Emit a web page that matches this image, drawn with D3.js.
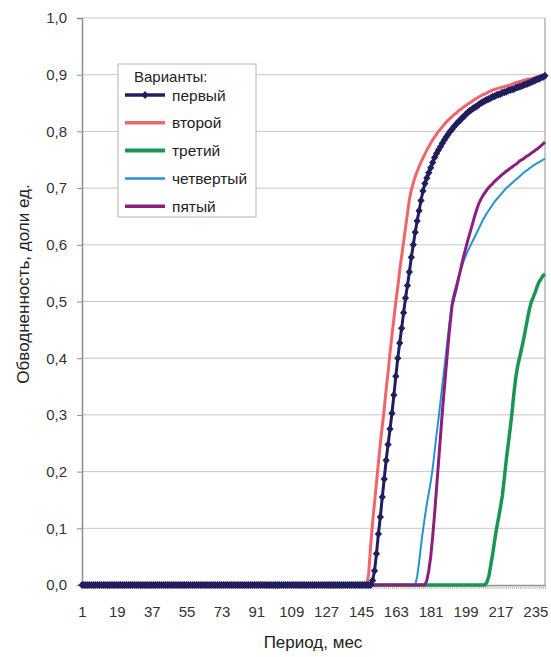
<!DOCTYPE html>
<html>
<head>
<meta charset="utf-8">
<script src="https://cdn.jsdelivr.net/npm/d3@7/dist/d3.min.js"></script>
<style>
  html, body { margin: 0; padding: 0; background: #fff; }
  svg { display: block; font-family: "Liberation Sans", Arial, sans-serif; }
</style>
</head>
<body>
<svg id="chart" width="551" height="657"></svg>
<script>
// Months 1..240; every series is zero until its start month, then the listed values.
const months = d3.range(1, 241);
const monthLabels = d3.range(1, 241, 18);
const yTicks = [0, 0.1, 0.2, 0.3, 0.4, 0.5, 0.6, 0.7, 0.8, 0.9, 1.0];

const seriesNames = ["первый", "второй", "третий", "четвертый", "пятый"];
const seriesColors = ["#221d5e", "#f0646c", "#1a9652", "#2593d3", "#8c1f7d"];

const firstStart = 151;
const firstValues = [
  0.008, 0.025, 0.055, 0.09, 0.12, 0.155, 0.187, 0.22, 0.248, 0.275,
  0.303, 0.335, 0.368, 0.4, 0.427, 0.453, 0.48, 0.506, 0.528, 0.552,
  0.578, 0.6, 0.622, 0.642, 0.66, 0.678, 0.695, 0.708, 0.718, 0.727,
  0.736, 0.745, 0.754, 0.761, 0.767, 0.773, 0.779, 0.785, 0.79, 0.795,
  0.8, 0.804, 0.808, 0.812, 0.816, 0.819, 0.823, 0.826, 0.83, 0.833,
  0.836, 0.838, 0.841, 0.843, 0.845, 0.848, 0.85, 0.852, 0.854, 0.856,
  0.857, 0.859, 0.861, 0.862, 0.864, 0.865, 0.866, 0.868, 0.869, 0.87,
  0.872, 0.873, 0.874, 0.875, 0.877, 0.878, 0.879, 0.88, 0.882, 0.883,
  0.884, 0.886, 0.887, 0.889, 0.89, 0.892, 0.893, 0.895, 0.896, 0.898
];

const secondStart = 149;
const secondValues = [
  0.02, 0.07, 0.11, 0.145, 0.18, 0.215, 0.25, 0.28, 0.31, 0.345,
  0.375, 0.41, 0.44, 0.47, 0.5, 0.525, 0.555, 0.58, 0.605, 0.63,
  0.655, 0.68, 0.697, 0.709, 0.72, 0.729, 0.738, 0.746, 0.753, 0.76,
  0.767, 0.773, 0.779, 0.785, 0.79, 0.795, 0.8, 0.804, 0.808, 0.812,
  0.816, 0.82, 0.823, 0.826, 0.829, 0.832, 0.835, 0.838, 0.84, 0.843,
  0.845, 0.848, 0.85, 0.852, 0.855, 0.857, 0.859, 0.861, 0.863, 0.865,
  0.866, 0.868, 0.87, 0.871, 0.873, 0.874, 0.875, 0.876, 0.877, 0.878,
  0.879, 0.88, 0.881, 0.882, 0.883, 0.885, 0.886, 0.887, 0.888, 0.889,
  0.89, 0.891, 0.892, 0.892, 0.893, 0.894, 0.895, 0.896, 0.897, 0.897,
  0.898, 0.899
];

const thirdStart = 210;
const thirdValues = [
  0.005, 0.015, 0.035, 0.055, 0.078, 0.1, 0.118, 0.137, 0.158, 0.188,
  0.22, 0.248, 0.275, 0.305, 0.34, 0.368, 0.388, 0.403, 0.418, 0.434,
  0.452, 0.47, 0.487, 0.5, 0.508, 0.517, 0.527, 0.535, 0.54, 0.546,
  0.548
];

const fourthStart = 174;
const fourthValues = [
  0.015, 0.04, 0.07, 0.097, 0.12, 0.143, 0.162, 0.182, 0.205, 0.235,
  0.265, 0.292, 0.322, 0.352, 0.382, 0.412, 0.442, 0.472, 0.5, 0.515,
  0.527, 0.539, 0.55, 0.561, 0.571, 0.58, 0.588, 0.595, 0.602, 0.609,
  0.616, 0.623, 0.63, 0.637, 0.644, 0.65, 0.656, 0.661, 0.666, 0.671,
  0.676, 0.68, 0.684, 0.688, 0.692, 0.696, 0.7, 0.703, 0.706, 0.709,
  0.712, 0.715, 0.718, 0.721, 0.724, 0.727, 0.73, 0.732, 0.735, 0.737,
  0.74, 0.742, 0.744, 0.746, 0.748, 0.75, 0.752
];

const fifthStart = 179;
const fifthValues = [
  0.008, 0.025, 0.05, 0.085, 0.125, 0.17, 0.215, 0.26, 0.305, 0.345,
  0.385, 0.425, 0.46, 0.492, 0.507, 0.52, 0.535, 0.55, 0.565, 0.58,
  0.593, 0.606, 0.618, 0.63, 0.642, 0.654, 0.665, 0.674, 0.681, 0.687,
  0.692, 0.697, 0.701, 0.705, 0.708, 0.712, 0.715, 0.718, 0.721, 0.724,
  0.727, 0.73, 0.732, 0.735, 0.737, 0.74, 0.742, 0.745, 0.748, 0.75,
  0.752, 0.755, 0.757, 0.759, 0.762, 0.764, 0.767, 0.769, 0.772, 0.775,
  0.778, 0.781
];

function fullSeries(start, values) {
  return months.map(m => ({ m, v: m < start ? 0 : values[m - start] }));
}

const series = [
  { name: seriesNames[0], color: seriesColors[0], width: 3,   data: fullSeries(firstStart, firstValues), markers: true },
  { name: seriesNames[1], color: seriesColors[1], width: 3,   data: fullSeries(secondStart, secondValues) },
  { name: seriesNames[2], color: seriesColors[2], width: 3.5, data: fullSeries(thirdStart, thirdValues) },
  { name: seriesNames[3], color: seriesColors[3], width: 2,   data: fullSeries(fourthStart, fourthValues) },
  { name: seriesNames[4], color: seriesColors[4], width: 3,   data: fullSeries(fifthStart, fifthValues) }
];

const plot = { left: 82, right: 545, top: 18, bottom: 585 };
const svg = d3.select("#chart");

const x = d3.scalePoint().domain(months).range([plot.left, plot.right]).padding(0);
const y = d3.scaleLinear().domain([0, 1]).range([plot.bottom, plot.top]);
const comma = d => d3.format(".1f")(d).replace(".", ",");

// Gridlines
svg.append("g")
  .selectAll("line")
  .data(yTicks.slice(1))
  .join("line")
  .attr("x1", plot.left).attr("x2", plot.right)
  .attr("y1", d => y(d)).attr("y2", d => y(d))
  .attr("stroke", "#c6c6c6").attr("stroke-width", 1);

// Right border of the plot area
svg.append("line")
  .attr("x1", plot.right).attr("x2", plot.right)
  .attr("y1", plot.top).attr("y2", plot.bottom)
  .attr("stroke", "#b4b4b4").attr("stroke-width", 1.5);

// Y axis
const yAxis = svg.append("g")
  .attr("transform", `translate(${plot.left},0)`)
  .call(d3.axisLeft(y).tickValues(yTicks).tickFormat(comma).tickSize(5).tickPadding(10));
yAxis.select(".domain").attr("stroke", "#8c8c8c").attr("stroke-width", 1.5);
yAxis.selectAll(".tick line").attr("stroke", "#8c8c8c");
yAxis.selectAll("text").attr("font-size", 15).attr("fill", "#333").attr("font-family", "Liberation Sans, Arial, sans-serif");

// X axis: a small tick on every month, labels every 18 months
const xAxis = svg.append("g")
  .attr("transform", `translate(0,${plot.bottom})`)
  .call(d3.axisBottom(x).tickValues(months)
    .tickFormat(m => monthLabels.includes(m) ? String(m) : "")
    .tickSize(4).tickPadding(17).tickSizeOuter(0));
xAxis.select(".domain").attr("stroke", "#8c8c8c").attr("stroke-width", 1.5);
xAxis.selectAll(".tick line").attr("stroke", "#b0b0b0").attr("stroke-width", 0.8);
xAxis.selectAll("text").attr("font-size", 15).attr("fill", "#333").attr("font-family", "Liberation Sans, Arial, sans-serif");

// Curves, drawn so that the first variant ends on top
const line = d3.line().x(d => x(d.m)).y(d => y(d.v));
const drawOrder = [2, 3, 4, 1, 0];
const curves = svg.append("g");
drawOrder.forEach(i => {
  const s = series[i];
  curves.append("path")
    .datum(s.data)
    .attr("fill", "none")
    .attr("stroke", s.color)
    .attr("stroke-width", s.width)
    .attr("stroke-linejoin", "round")
    .attr("d", line);
  if (s.markers) {
    curves.append("g")
      .selectAll("path")
      .data(s.data)
      .join("path")
      .attr("transform", d => `translate(${x(d.m)},${y(d.v)})`)
      .attr("d", "M0,-4L3.6,0L0,4L-3.6,0Z")
      .attr("fill", s.color);
  }
});

// Axis titles
svg.append("text")
  .attr("transform", "translate(29,284) rotate(-90)")
  .attr("text-anchor", "middle")
  .attr("font-size", 17).attr("fill", "#222")
  .text("Обводненность, доли ед.");
svg.append("text")
  .attr("x", 313).attr("y", 648)
  .attr("text-anchor", "middle")
  .attr("font-size", 17).attr("fill", "#222")
  .text("Период, мес");

// Legend
const legend = svg.append("g");
legend.append("rect")
  .attr("x", 118).attr("y", 64).attr("width", 138).attr("height", 153)
  .attr("fill", "#fff").attr("stroke", "#b4b4b4").attr("stroke-width", 1);
legend.append("text")
  .attr("x", 134).attr("y", 82)
  .attr("font-size", 15).attr("fill", "#222")
  .text("Варианты:");
series.forEach((s, i) => {
  const cy = 95 + i * 27.8;
  legend.append("line")
    .attr("x1", 125).attr("x2", 165).attr("y1", cy).attr("y2", cy)
    .attr("stroke", s.color).attr("stroke-width", s.width + 0.5);
  if (s.markers) {
    legend.append("path")
      .attr("transform", `translate(145,${cy})`)
      .attr("d", "M0,-4L3.6,0L0,4L-3.6,0Z")
      .attr("fill", s.color);
  }
  legend.append("text")
    .attr("x", 172).attr("y", cy + 5.5)
    .attr("font-size", 15.5).attr("fill", "#222")
    .text(s.name);
});
</script>
</body>
</html>
